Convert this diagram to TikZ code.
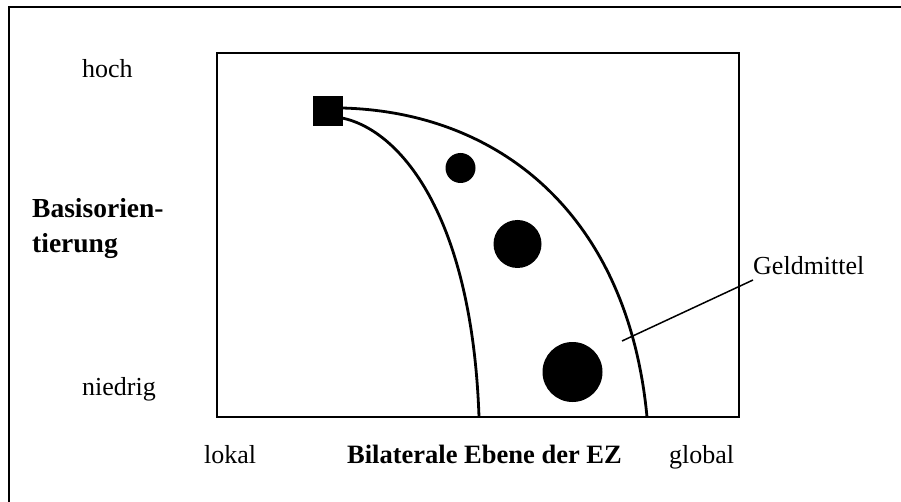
\documentclass[tikz,border=0pt]{standalone}
\usepackage{fontspec}
\setmainfont{Liberation Serif}
\begin{document}
\begin{tikzpicture}[x=1pt,y=-1pt,
  lbl/.style={anchor=base west,inner sep=0pt,font=\fontsize{26}{30}\selectfont},
  blbl/.style={anchor=base west,inner sep=0pt,font=\fontsize{26.5}{32}\selectfont\bfseries},
  curve/.style={line width=2.8pt},
  dot/.style={circle,fill=black,draw=none,inner sep=0pt}]
\useasboundingbox (0,0) rectangle (901,502);
% outer frame (only left and top edges visible)
\draw[line width=2pt] (8.5,502) -- (8.5,7.5) -- (901,7.5);
% inner frame
\draw[line width=2pt] (217,53) rectangle (739,417);
% square
\node[rectangle,fill=black,minimum size=30pt,inner sep=0pt] (sq) at (328,111.5) {};
% curves
\coordinate (u0) at (342,108);
\coordinate (u1) at (647,417);
\coordinate (l0) at (342,118);
\coordinate (l1) at (479,417);
\draw[curve] (u0) .. controls (500,112) and (628,215) .. (u1);
\draw[curve] (l0) .. controls (400,130) and (472,215) .. (l1);
% dots
\node[dot,minimum size=30pt] (d1) at (460.5,168) {};
\node[dot,minimum size=48pt] (d2) at (517.5,244) {};
\node[dot,minimum size=60pt] (d3) at (572.5,372) {};
% labels
\node[lbl] (hoch) at (82,78) {hoch};
\node[lbl] (niedrig) at (82,395) {niedrig};
\node[lbl] (lokal) at (204,463) {lokal};
\node[lbl] (global) at (669,463) {global};
\node[blbl] (bil) at (347,463) {Bilaterale Ebene der EZ};
\node[anchor=base west,inner sep=0pt,font=\fontsize{27.5}{35}\selectfont\bfseries] (b1) at (32,218) {Basisorien-};
\node[anchor=base west,inner sep=0pt,font=\fontsize{27.5}{35}\selectfont\bfseries] (b2) at (32,253) {tierung};
\node[lbl] (geld) at (753,275) {Geldmittel};
% leader
\coordinate (lstart) at (622,341);
\coordinate (lend) at (753,280);
\draw[line width=1.5pt] (lstart) -- (lend);
\end{tikzpicture}
\end{document}
